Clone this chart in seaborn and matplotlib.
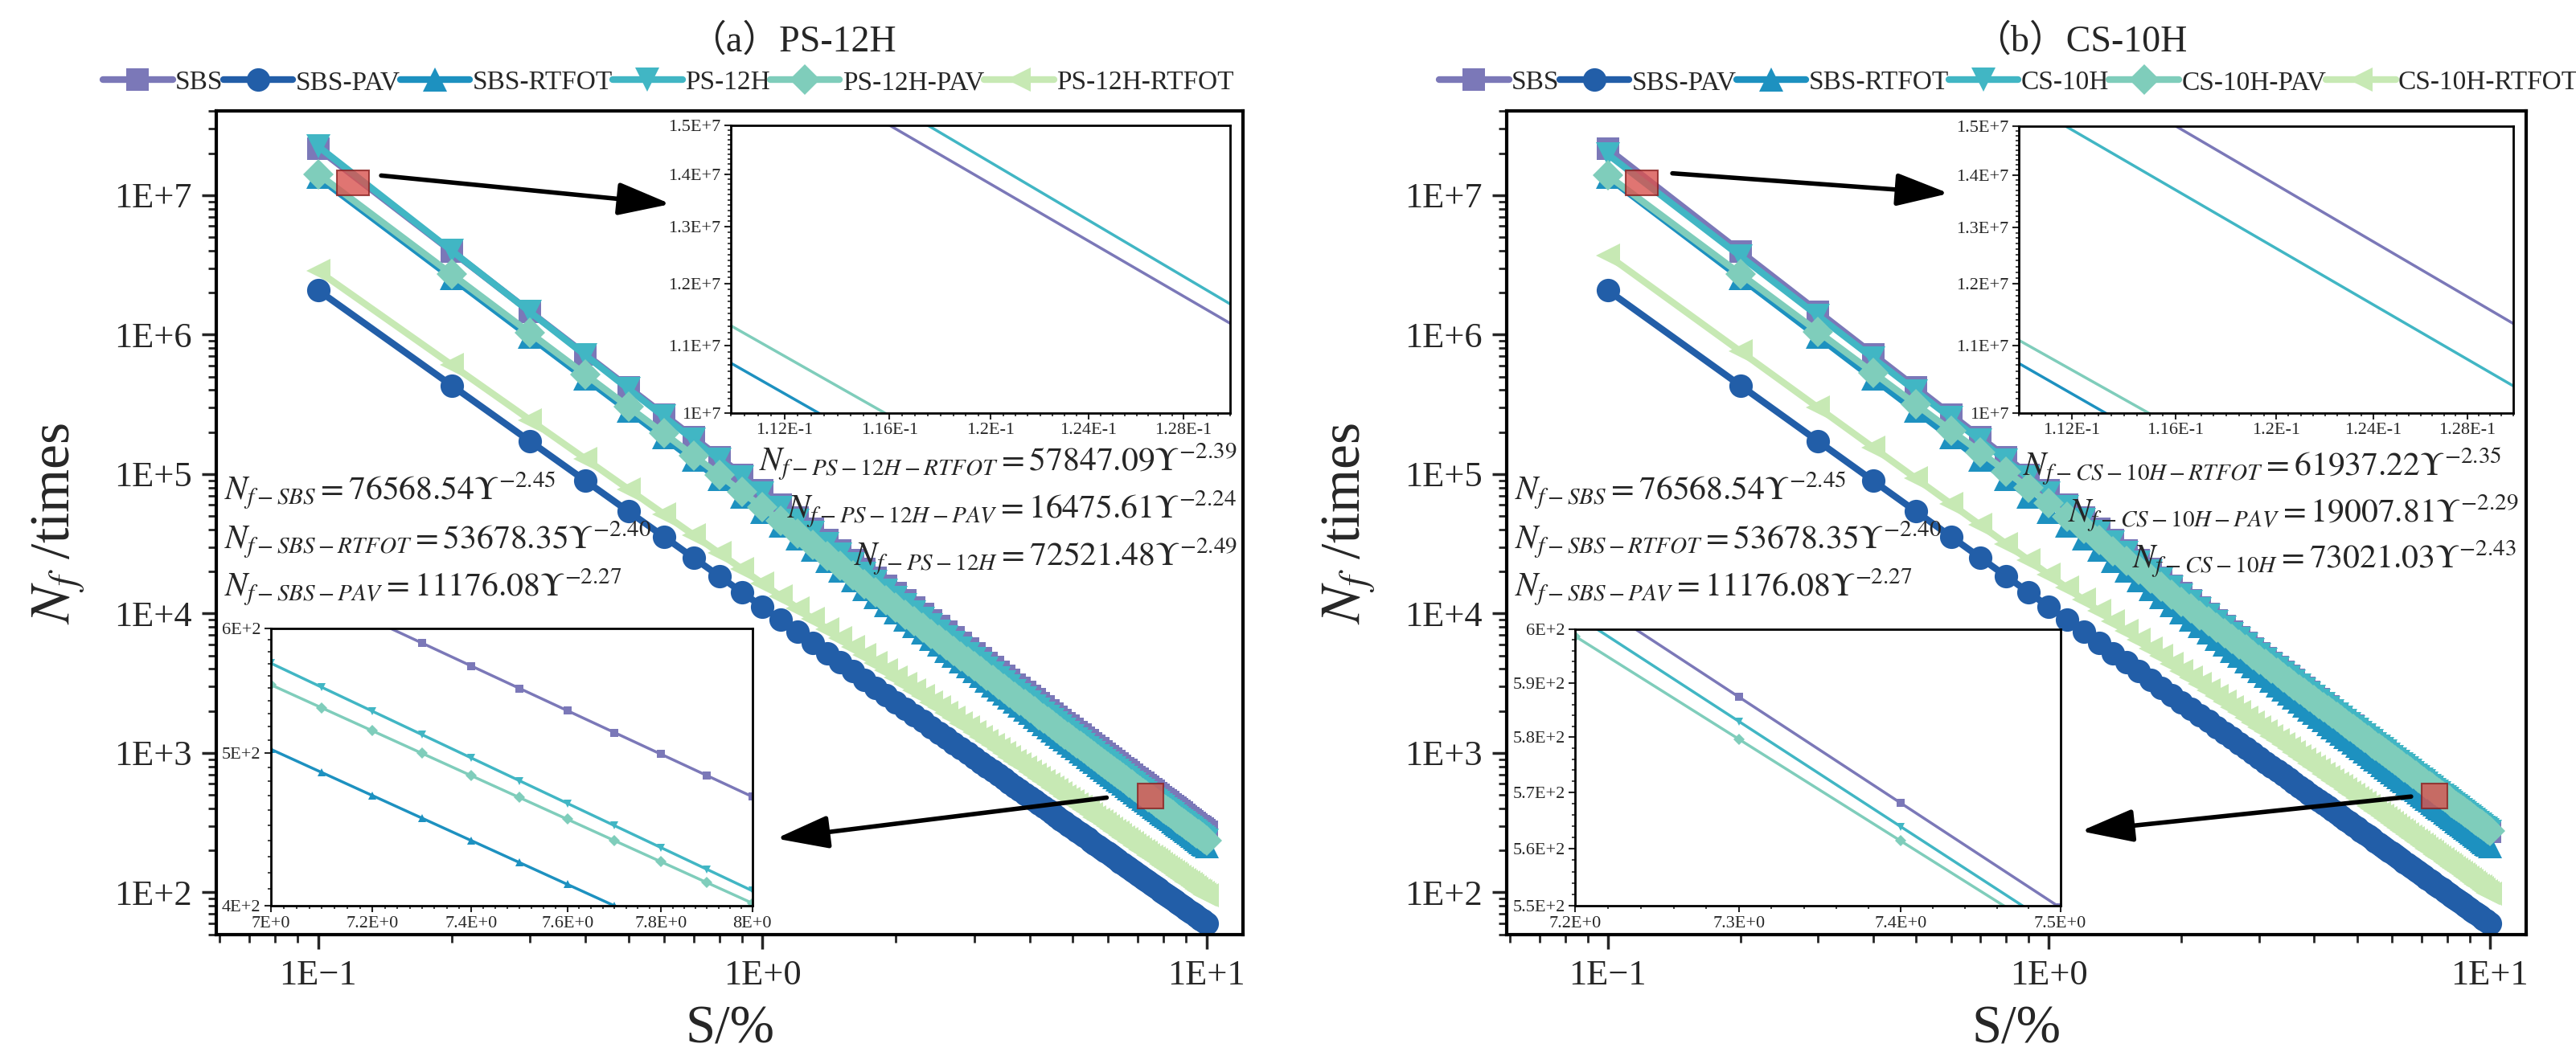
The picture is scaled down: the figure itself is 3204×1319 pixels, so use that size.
import numpy as np
import pandas as pd
import seaborn as sns
import matplotlib.pyplot as plt
from matplotlib.patches import Rectangle
from matplotlib.ticker import FixedLocator, FuncFormatter, LogLocator, NullFormatter

# strain levels of the fatigue test (%)
strain = np.round(np.arange(0.1, 10.01, 0.1), 1)

# fitted fatigue equations: Nf = A * S^-b
names_a = ["SBS", "SBS-PAV", "SBS-RTFOT", "PS-12H", "PS-12H-PAV", "PS-12H-RTFOT"]
coef_a = [76568.54, 11176.08, 53678.35, 72521.48, 57847.09, 16475.61]
expo_a = [2.45, 2.27, 2.40, 2.49, 2.39, 2.24]

names_b = ["SBS", "SBS-PAV", "SBS-RTFOT", "CS-10H", "CS-10H-PAV", "CS-10H-RTFOT"]
coef_b = [76568.54, 11176.08, 53678.35, 73021.03, 61937.22, 19007.81]
expo_b = [2.45, 2.27, 2.40, 2.43, 2.35, 2.29]

# equation labels as printed
eq_left = [("SBS", "76568.54", "2.45"), ("SBS-RTFOT", "53678.35", "2.40"), ("SBS-PAV", "11176.08", "2.27")]
eq_right_a = [("PS-12H-RTFOT", "57847.09", "2.39"), ("PS-12H-PAV", "16475.61", "2.24"), ("PS-12H", "72521.48", "2.49")]
eq_right_b = [("CS-10H-RTFOT", "61937.22", "2.35"), ("CS-10H-PAV", "19007.81", "2.29"), ("CS-10H", "73021.03", "2.43")]

palette = ["#7b78b8", "#225ea8", "#1d91c0", "#41b6c4", "#7fcdbb", "#c7e9b4"]
markers = ["s", "o", "^", "v", "D", "<"]
msizes = [20, 21, 22, 22, 19, 22]

sns.set_style("ticks")
plt.rcParams["font.family"] = ["Liberation Serif", "Noto Sans CJK SC", "DejaVu Sans"]
plt.rcParams["mathtext.fontset"] = "stix"
plt.rcParams["axes.unicode_minus"] = True


def build_df(names, coefs, expos):
    rows = []
    for name, a, b in zip(names, coefs, expos):
        rows.append(pd.DataFrame({"S": strain, "N": a * strain ** (-b), "series": name}))
    return pd.concat(rows, ignore_index=True)


def sci(v, pos=None):
    if v <= 0:
        return ""
    e = int(np.floor(np.log10(v) + 1e-9))
    m = v / 10 ** e
    return f"{m:.3g}E{e:+d}"


def main_fmt(v, pos=None):
    return sci(v).replace("-", "\u2212")


def style_inset(ax, xl, xt, xstep, yl, yt, ystep):
    # zoom windows keep the log-log scale, ticks at plain values
    ax.set_xscale("log")
    ax.set_yscale("log")
    ax.set_xlim(*xl)
    ax.set_ylim(*yl)
    ax.xaxis.set_major_locator(FixedLocator(xt))
    ax.yaxis.set_major_locator(FixedLocator(yt))
    ax.xaxis.set_minor_locator(FixedLocator(np.arange(xl[0], xl[1] + xstep / 2, xstep)))
    ax.yaxis.set_minor_locator(FixedLocator(np.arange(yl[0], yl[1] + ystep / 2, ystep)))
    ax.xaxis.set_major_formatter(FuncFormatter(sci))
    ax.yaxis.set_major_formatter(FuncFormatter(sci))
    ax.xaxis.set_minor_formatter(NullFormatter())
    ax.yaxis.set_minor_formatter(NullFormatter())
    ax.tick_params(which="major", direction="out", length=6, width=1.5, labelsize=16, pad=3)
    ax.tick_params(which="minor", direction="out", length=3, width=1.2)
    ax.set_xlabel("")
    ax.set_ylabel("")
    for sp in ax.spines.values():
        sp.set_linewidth(2)
        sp.set_color("black")


def draw_panel(fig, rect, names, coefs, expos, eq_right, eq_right_pos, insets, arrows, title, title_x, leg_x):
    ax = fig.add_axes(rect)
    ax.set_xscale("log")
    ax.set_yscale("log")
    df = build_df(names, coefs, expos)
    for i, name in enumerate(names):
        d = df[df["series"] == name]
        sns.lineplot(data=d, x="S", y="N", ax=ax, color=palette[i], marker=markers[i],
                     markersize=msizes[i], markeredgewidth=0, linewidth=6,
                     label=name, legend=False, errorbar=None)
    ax.set_xlim(0.059, 12.1)
    ax.set_ylim(49.5, 4.0e7)
    ax.xaxis.set_major_locator(FixedLocator([0.1, 1, 10]))
    ax.yaxis.set_major_locator(FixedLocator([1e2, 1e3, 1e4, 1e5, 1e6, 1e7]))
    ax.xaxis.set_minor_locator(LogLocator(base=10, subs=np.arange(2, 10)))
    ax.yaxis.set_minor_locator(LogLocator(base=10, subs=np.arange(2, 10)))
    ax.xaxis.set_major_formatter(FuncFormatter(main_fmt))
    ax.yaxis.set_major_formatter(FuncFormatter(main_fmt))
    ax.xaxis.set_minor_formatter(NullFormatter())
    ax.yaxis.set_minor_formatter(NullFormatter())
    ax.tick_params(which="major", direction="out", length=13, width=2.5, labelsize=32, pad=9)
    ax.tick_params(which="minor", direction="out", length=7, width=2)
    for sp in ax.spines.values():
        sp.set_linewidth(3)
        sp.set_color("black")
    ax.set_xlabel("S/%", fontsize=48, labelpad=12)
    ax.set_ylabel(r"$N_f$ /times", fontsize=50, labelpad=24)

    # equations
    for (lab, a, b), y in zip(eq_left, [0.540, 0.480, 0.422]):
        ax.text(0.008, y, rf"$N_{{f-{lab}}}={a}\Upsilon^{{-{b}}}$", transform=ax.transAxes,
                fontsize=30, ha="left", va="center")
    for (lab, a, b), (x, y) in zip(eq_right, eq_right_pos):
        ax.text(x, y, rf"$N_{{f-{lab}}}={a}\Upsilon^{{-{b}}}$", transform=ax.transAxes,
                fontsize=30, ha="right", va="center")

    # zoom markers
    ax.add_patch(Rectangle((0.11, 1e7), 0.02, 0.5e7, facecolor="#d9534f", edgecolor="#8b2020",
                           alpha=0.8, lw=1.5, zorder=6))
    ax.add_patch(Rectangle((7, 400), 1, 200, facecolor="#d9534f", edgecolor="#8b2020",
                           alpha=0.8, lw=1.5, zorder=6))
    for tail, head in arrows:
        ax.annotate("", xy=head, xytext=tail, xycoords="axes fraction", textcoords="axes fraction",
                    arrowprops=dict(arrowstyle="-|>,head_length=1.6,head_width=0.5",
                                    mutation_scale=25, lw=4, color="black", shrinkA=0, shrinkB=0),
                    zorder=7)

    # insets
    top_rect, bot_rect, bot_cfg = insets
    axt = ax.inset_axes(top_rect)
    for i, name in enumerate(names):
        d = df[df["series"] == name]
        sns.lineplot(data=d, x="S", y="N", ax=axt, color=palette[i],
                     linewidth=2.5, legend=False, errorbar=None)
    style_inset(axt, (0.11, 0.13), [0.112, 0.116, 0.12, 0.124, 0.128], 0.0005,
                (1e7, 1.5e7), [1e7, 1.1e7, 1.2e7, 1.3e7, 1.4e7, 1.5e7], 1e5)

    axb = ax.inset_axes(bot_rect)
    for i, name in enumerate(names):
        d = df[df["series"] == name]
        sns.lineplot(data=d, x="S", y="N", ax=axb, color=palette[i], marker=markers[i],
                     markersize=7, markeredgewidth=0, linewidth=2.5, legend=False, errorbar=None)
    style_inset(axb, *bot_cfg)

    fig.text(title_x, 0.961, title, fontsize=33, ha="center", va="center")
    h, l = ax.get_legend_handles_labels()
    fig.legend(h, l, loc="center left", bbox_to_anchor=(leg_x, 0.922), ncol=6, frameon=False,
               fontsize=24, handlelength=2.6, handletextpad=0.1, columnspacing=0.0,
               borderaxespad=0, borderpad=0)
    return ax


fig = plt.figure(figsize=(32.04, 13.19), dpi=100)

draw_panel(fig, [0.0840, 0.118, 0.3986, 0.777], names_a, coef_a, expo_a, eq_right_a,
           [(0.994, 0.574), (0.994, 0.517), (0.994, 0.459)],
           ([0.501, 0.634, 0.486, 0.349], [0.053, 0.035, 0.469, 0.337],
            ((7, 8), [7, 7.2, 7.4, 7.6, 7.8, 8], 0.025, (400, 600), [400, 500, 600], 10)),
           [((0.1605, 0.922), (0.4424, 0.8874)), ((0.867, 0.1667), (0.545, 0.117))],
           "（a）PS-12H", 0.3077, 0.040)

draw_panel(fig, [0.5849, 0.118, 0.3958, 0.777], names_b, coef_b, expo_b, eq_right_b,
           [(0.976, 0.570), (0.992, 0.512), (0.990, 0.456)],
           ([0.502, 0.634, 0.485, 0.348], [0.067, 0.035, 0.476, 0.336],
            ((7.2, 7.5), [7.2, 7.3, 7.4, 7.5], 0.02, (550, 600), [550, 560, 570, 580, 590, 600], 2)),
           [((0.1625, 0.9247), (0.4338, 0.9003)), ((0.887, 0.168), (0.563, 0.126))],
           "（b）CS-10H", 0.8077, 0.5587)

fig.savefig("out.png", dpi=100)
